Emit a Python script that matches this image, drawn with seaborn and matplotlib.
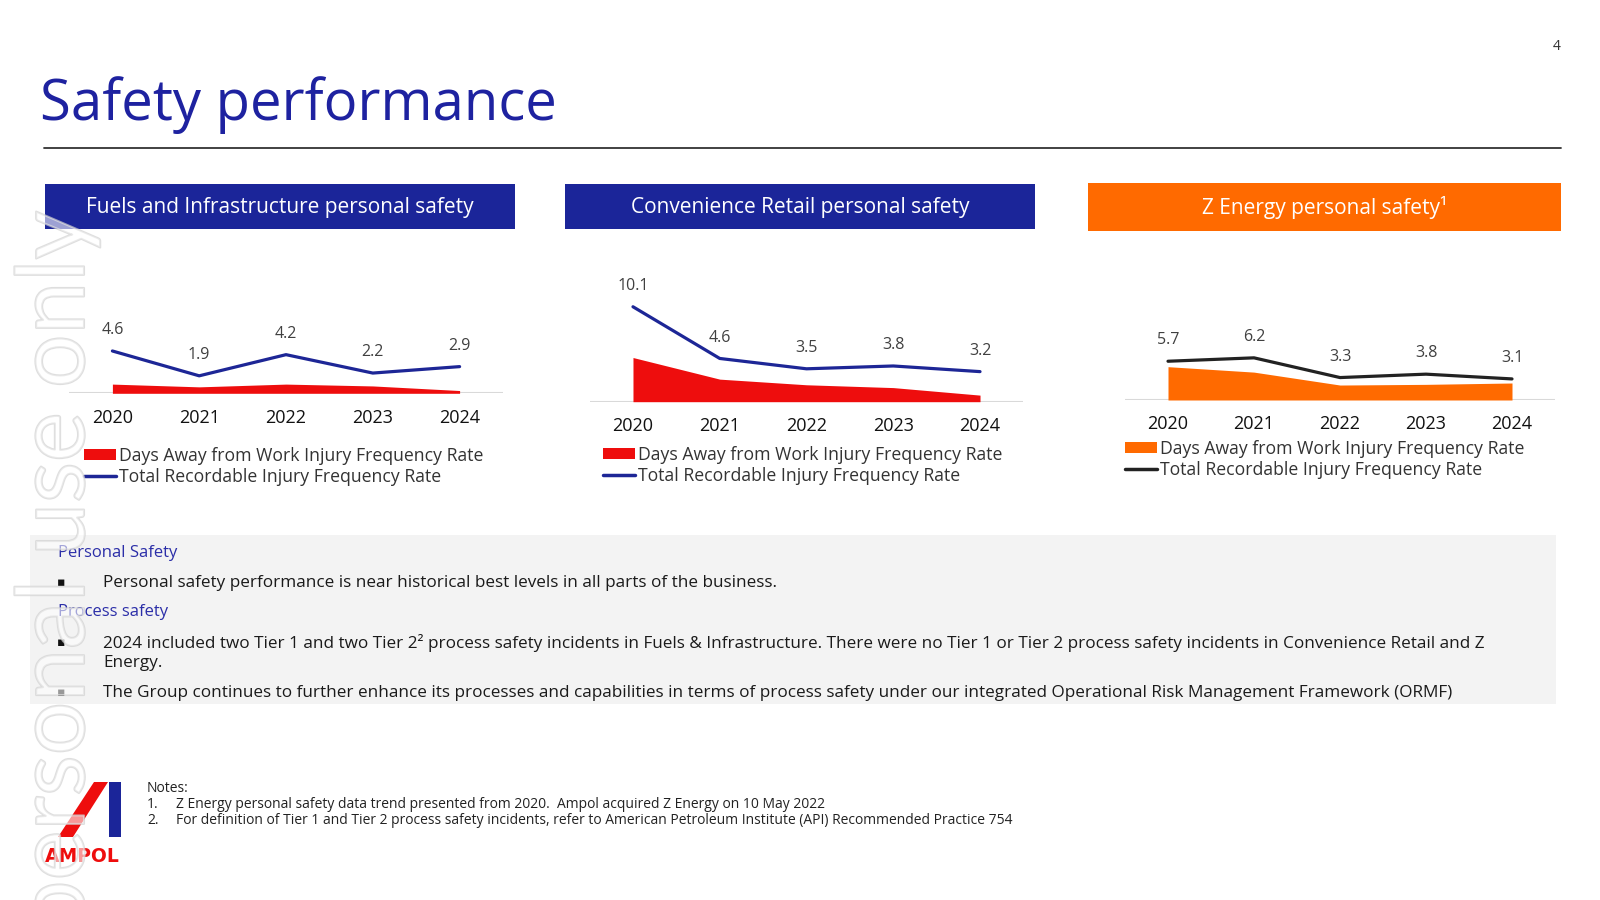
import numpy as np
import seaborn as sns
import matplotlib.pyplot as plt
from matplotlib.patches import Rectangle, Polygon, Patch
from matplotlib.lines import Line2D
import matplotlib.patheffects as pe

years = ['2020', '2021', '2022', '2023', '2024']

fi_trifr = [4.6, 1.9, 4.2, 2.2, 2.9]
fi_dafwifr = [1.0, 0.7, 1.0, 0.8, 0.3]

cr_trifr = [10.1, 4.6, 3.5, 3.8, 3.2]
cr_dafwifr = [4.7, 2.4, 1.8, 1.5, 0.7]

z_trifr = [5.7, 6.2, 3.3, 3.8, 3.1]
z_dafwifr = [4.9, 4.1, 2.2, 2.3, 2.5]

panel_titles = ['Fuels and Infrastructure personal safety',
                'Convenience Retail personal safety',
                'Z Energy personal safety\u00b9']
area_label = 'Days Away from Work Injury Frequency Rate'
line_label = 'Total Recordable Injury Frequency Rate'

BLUE = '#1b2599'
ORANGE = '#ff6a00'
RED = '#ee0d0d'
LINE_BLUE = '#1d2696'

sns.set_theme(style='white')
plt.rcParams['font.family'] = ['Open Sans', 'DejaVu Sans']

W, H = 1600, 900
fig = plt.figure(figsize=(16, 9), dpi=100)


def fx(x):
    return x / W


def fy(y):
    return 1 - y / H


def ftext(x, y, s, **kw):
    fig.text(fx(x), fy(y), s, transform=fig.transFigure, **kw)


def frect(x0, y0, x1, y1, **kw):
    fig.add_artist(Rectangle((fx(x0), fy(y1)), fx(x1) - fx(x0), fy(y0) - fy(y1),
                             transform=fig.transFigure, **kw))


# title + rule + page number
ftext(40, 105, 'Safety performance', fontsize=40.5, color='#1e22a0', va='center')
fig.add_artist(Line2D([fx(44), fx(1561)], [fy(148), fy(148)], color='#333333', lw=1.3,
                      transform=fig.transFigure))
ftext(1557, 47, '4', fontsize=10, color='#333333', ha='center', va='center')

panels = [
    dict(hdr=(45, 184, 515, 229), hc=BLUE, ax=(69, 503, 393.3), pxu=9.2, ymax=12,
         trifr=fi_trifr, dafw=fi_dafwifr, fill=RED, line=LINE_BLUE, leg=(84, 447)),
    dict(hdr=(565, 184, 1035, 229), hc=BLUE, ax=(589.6, 1023.4, 401.7), pxu=9.4, ymax=12,
         trifr=cr_trifr, dafw=cr_dafwifr, fill=RED, line=LINE_BLUE, leg=(603, 446)),
    dict(hdr=(1088, 183, 1561, 231), hc=ORANGE, ax=(1125, 1555, 400), pxu=6.8, ymax=16,
         trifr=z_trifr, dafw=z_dafwifr, fill=ORANGE, line='#222222', leg=(1125, 440)),
]

for title, p in zip(panel_titles, panels):
    x0, y0, x1, y1 = p['hdr']
    frect(x0, y0, x1, y1, facecolor=p['hc'], edgecolor='none')
    ftext((x0 + x1) / 2, (y0 + y1) / 2 + 1, title, fontsize=15, color='white',
          ha='center', va='center')

    left, right, base = p['ax']
    top = base - p['ymax'] * p['pxu']
    ax = fig.add_axes([fx(left), fy(base), fx(right) - fx(left), fy(top) - fy(base)])
    ax.patch.set_alpha(0)
    xs = np.arange(len(years))
    ax.fill_between(xs, 0, p['dafw'], color=p['fill'], lw=0, zorder=2)
    sns.lineplot(x=xs, y=p['trifr'], ax=ax, color=p['line'], lw=2.3, zorder=3)
    for xi, v in zip(xs, p['trifr']):
        ax.annotate(f'{v:.1f}', (xi, v), xytext=(0, 15), textcoords='offset points',
                    ha='center', va='center', fontsize=11.5, color='#404040')
    ax.axhline(0, color='#d9d9d9', lw=1.5, zorder=1)
    ax.set_xlim(-0.5, len(years) - 0.5)
    ax.set_ylim(0, p['ymax'])
    ax.set_xticks(xs, years)
    ax.set_yticks([])
    ax.tick_params(axis='x', length=0, pad=11, labelsize=13, labelcolor='#111111')
    ax.set_xlabel('')
    ax.set_ylabel('')
    for s in ax.spines.values():
        s.set_visible(False)

    handles = [Patch(facecolor=p['fill'], edgecolor='none'),
               Line2D([], [], color=p['line'], lw=2.5)]
    lx, ly = p['leg']
    fig.legend(handles, [area_label, line_label], loc='upper left',
               bbox_to_anchor=(fx(lx), fy(ly)), bbox_transform=fig.transFigure,
               frameon=False, fontsize=12.7, labelcolor='#333333', borderpad=0,
               borderaxespad=0, handlelength=1.8, handleheight=0.55,
               handletextpad=0.2, labelspacing=0.18)

# commentary box
frect(30, 535, 1556, 704, facecolor='#f3f3f3', edgecolor='none', zorder=0)
ftext(58, 553, 'Personal Safety', fontsize=12, color='#2b2ea8', va='center')
ftext(58, 612, 'Process safety', fontsize=12, color='#2b2ea8', va='center')
body = [
    (583, 'Personal safety performance is near historical best levels in all parts of the business.', True),
    (643, '2024 included two Tier 1 and two Tier 2\u00b2 process safety incidents in Fuels & Infrastructure. '
          'There were no Tier 1 or Tier 2 process safety incidents in Convenience Retail and Z', True),
    (663, 'Energy.', False),
    (693, 'The Group continues to further enhance its processes and capabilities in terms of process '
          'safety under our integrated Operational Risk Management Framework (ORMF)', True),
]
for y, s, bullet in body:
    if bullet:
        ftext(61, y, '\u25aa', fontsize=9, color='#111111', ha='center', va='center',
              family=['DejaVu Sans'])
    ftext(103, y, s, fontsize=12.3, color='#1a1a1a', va='center')

# notes
note_kw = dict(fontsize=10, color='#222222', va='center')
ftext(147, 788, 'Notes:', **note_kw)
ftext(147, 804, '1.', **note_kw)
ftext(176, 804, 'Z Energy personal safety data trend presented from 2020.  Ampol acquired Z Energy on 10 May 2022',
      **note_kw)
ftext(147, 820, '2.', **note_kw)
ftext(176, 820, 'For definition of Tier 1 and Tier 2 process safety incidents, refer to American Petroleum '
      'Institute (API) Recommended Practice 754', **note_kw)

# logo
fig.add_artist(Polygon([(fx(94), fy(782)), (fx(108), fy(782)), (fx(73), fy(837)), (fx(58), fy(837))],
                       closed=True, facecolor=RED, edgecolor='none', transform=fig.transFigure))
frect(109, 782, 121, 837, facecolor=BLUE, edgecolor='none')
ftext(82, 856, 'AMPOL', fontsize=13.5, color=RED, fontweight='heavy', ha='center', va='center',
      family=['DejaVu Sans'])

# watermark
fig.text(fx(84), fy(210), 'For personal use only', rotation=90, rotation_mode='anchor',
         ha='right', va='baseline', fontsize=68, color=(1, 1, 1, 0.35), family=['Lato'],
         transform=fig.transFigure, zorder=10,
         path_effects=[pe.withStroke(linewidth=1.5, foreground=(0.82, 0.82, 0.82, 0.7))])

fig.savefig('out.png', dpi=100)
